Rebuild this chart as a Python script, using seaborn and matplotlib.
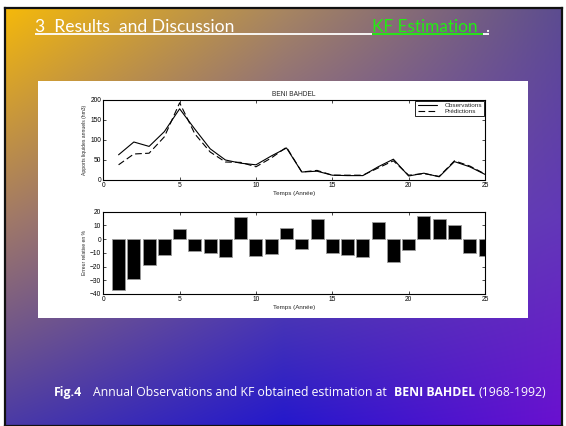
import numpy as np
import matplotlib
matplotlib.use("Agg")
import matplotlib.pyplot as plt
import seaborn as sns
import pandas as pd
from matplotlib.colors import to_rgb
from matplotlib.lines import Line2D

# ---- data -----------------------------------------------------------------
years = list(range(1, 26))
observations = [63, 95, 84, 121, 178, 127, 78, 50, 42, 38, 60, 80, 20,
                22, 12, 11, 11, 33, 52, 10, 17, 8, 46, 33, 14]
predictions = [38, 65, 67, 108, 193, 115, 70, 45, 44, 33, 55, 82, 20,
               24, 12, 12, 12, 30, 48, 12, 16, 9, 48, 35, 15]
relative_error = [-37, -29, -19, -11.5, 7.5, -9, -10, -13, 16.5, -12, -11, 8,
                  -7.5, 14.5, -10, -11.5, -13, 12.5, -17, -8, 17, 14.5, 10,
                  -10, -12]
flow_ticks = [0, 50, 100, 150, 200]
error_ticks = [-40, -30, -20, -10, 0, 10, 20]
year_ticks = [0, 5, 10, 15, 20, 25]

station = "BENI BAHDEL"
header_left = "3  Results  and Discussion"
header_right = "KF Estimation"
caption_parts = [("Fig.4", "bold"),
                 ("Annual Observations and KF obtained estimation at", "normal"),
                 ("BENI BAHDEL", "bold"),
                 ("(1968-1992)", "normal")]

flows = pd.DataFrame({"Temps": years * 2,
                      "Apport": observations + predictions,
                      "Série": ["Observations"] * 25 + ["Prédictions"] * 25})
errors = pd.DataFrame({"Temps": years, "Erreur": relative_error})

# ---- figure ---------------------------------------------------------------
sns.set_theme(style="ticks")
plt.rcParams["font.family"] = ["Liberation Sans", "DejaVu Sans"]

W, H = 566, 426
fig = plt.figure(figsize=(W / 100, H / 100), dpi=100)
fig.patch.set_facecolor("white")


def box(x0, y0, x1, y1):
    """Pixel box (top-left origin) -> figure fraction rect."""
    return [x0 / W, 1 - y1 / H, (x1 - x0) / W, (y1 - y0) / H]


# slide background with a smooth colour wash
sx0, sy0, sx1, sy1 = 5, 8, 562, 426
bg = fig.add_axes(box(sx0, sy0, sx1, sy1))
wash = [["#f5b90a", "#a88660", "#5c4c90"],
        ["#a27a66", "#6a50a0", "#6238b8"],
        ["#4a3aa6", "#2418cc", "#6a10d0"]]
grid = np.array([[to_rgb(c) for c in row] for row in wash])
ny, nx = 300, 420
gy = np.linspace(0, 2, ny)
gx = np.linspace(0, 2, nx)
iy = np.minimum(gy.astype(int), 1)
ix = np.minimum(gx.astype(int), 1)
fy = (gy - iy)[:, None, None]
fx = (gx - ix)[None, :, None]
top = grid[iy][:, ix] * (1 - fx) + grid[iy][:, ix + 1] * fx
bot = grid[iy + 1][:, ix] * (1 - fx) + grid[iy + 1][:, ix + 1] * fx
img = top * (1 - fy) + bot * fy
bg.imshow(img, extent=[sx0, sx1, sy1, sy0], aspect="auto", interpolation="bilinear")
bg.set_xlim(sx0, sx1)
bg.set_ylim(sy1, sy0)
bg.set_xticks([])
bg.set_yticks([])
for s in bg.spines.values():
    s.set_color("#111111")
    s.set_linewidth(1.6)

# header
r = fig.canvas.get_renderer()
hl = bg.text(35, 31.5, header_left, color="white", fontsize=12.5,
             family=["Lato", "DejaVu Sans"], va="baseline", ha="left")
bb = hl.get_window_extent(r)
hl.set_fontsize(12.5 * 199 / bb.width)
hr = bg.text(372, 31.5, header_right, color="#22ee11", fontsize=12.5,
             family=["Lato", "DejaVu Sans"], va="baseline", ha="left")
bb = hr.get_window_extent(r)
hr.set_fontsize(12.5 * 106 / bb.width)
bg.text(485, 31.5, ".", color="white", fontsize=hr.get_fontsize(),
        family=["Lato", "DejaVu Sans"], va="baseline", ha="left")
bg.plot([35, 372], [34, 34], color="white", lw=1.3, solid_capstyle="butt")
bg.plot([372, 483], [34, 34], color="#22ee11", lw=1.3, solid_capstyle="butt")
bg.plot([483, 489], [34, 34], color="white", lw=1.3, solid_capstyle="butt")

# caption, laid out piece by piece
gaps = [11, 7, 3]
cap_size = 7.0
for _ in range(2):
    pieces = []
    x = 54
    for k, (txt, wgt) in enumerate(caption_parts):
        t = bg.text(x, 396, txt, color="white", fontsize=cap_size, weight=wgt,
                    family=["Open Sans", "DejaVu Sans"], va="baseline", ha="left")
        pieces.append(t)
        b = t.get_window_extent(r)
        x = x + b.width + (gaps[k] if k < len(gaps) else 0)
    total = x - 54
    if _ == 0:
        for t in pieces:
            t.remove()
        cap_size = cap_size * (492 - sum(gaps)) / (total - sum(gaps))

# white inset panel
panel = fig.add_axes(box(38, 81, 528, 318))
panel.set_facecolor("white")
panel.set_xticks([])
panel.set_yticks([])
for s in panel.spines.values():
    s.set_visible(False)

tick_fs = 4.8


def style_axes(ax):
    ax.set_facecolor("white")
    for s in ax.spines.values():
        s.set_visible(True)
        s.set_color("black")
        s.set_linewidth(0.8)
    ax.tick_params(direction="in", top=True, right=True, length=2.2,
                   width=0.5, labelsize=tick_fs, pad=1.5, colors="black")


# upper panel: observed vs predicted inflows
ax1 = fig.add_axes(box(103.3, 100, 485, 180))
sns.lineplot(data=flows, x="Temps", y="Apport", style="Série", color="black",
             dashes={"Observations": "", "Prédictions": (6, 3)},
             linewidth=0.8, ax=ax1, legend=True)
ax1.set_xlim(0, 25)
ax1.set_ylim(0, 200)
ax1.set_xticks(year_ticks)
ax1.set_yticks(flow_ticks)
style_axes(ax1)
ax1.set_title(station, fontsize=4.8, pad=3)
ax1.set_xlabel("Temps (Année)", fontsize=4.5, labelpad=1.5)
ax1.set_ylabel("Apports liquides annuels (hm3)", fontsize=3.6, labelpad=2)
leg = ax1.legend(loc="upper right", fontsize=4.6, frameon=True, fancybox=False,
                 edgecolor="black", framealpha=1, borderpad=0.35,
                 handlelength=3.0, labelspacing=0.05, borderaxespad=0.1,
                 handletextpad=1.2, title=None)
leg.get_frame().set_linewidth(0.6)

# lower panel: relative error bars
ax2 = fig.add_axes(box(103.3, 211.7, 485, 294))
sns.barplot(data=errors, x="Temps", y="Erreur", native_scale=True, width=0.85,
            color="black", edgecolor="#9a9a9a", linewidth=0.6, saturation=1,
            ax=ax2)
ax2.set_xlim(0, 25)
ax2.set_ylim(-40, 20)
ax2.set_xticks(year_ticks)
ax2.set_xticklabels([str(v) for v in year_ticks])
ax2.set_yticks(error_ticks)
style_axes(ax2)
ax2.set_xlabel("Temps (Année)", fontsize=4.5, labelpad=1.5)
ax2.set_ylabel("Erreur relative en %", fontsize=3.6, labelpad=2)

fig.savefig("out.png", dpi=100, facecolor="white")
